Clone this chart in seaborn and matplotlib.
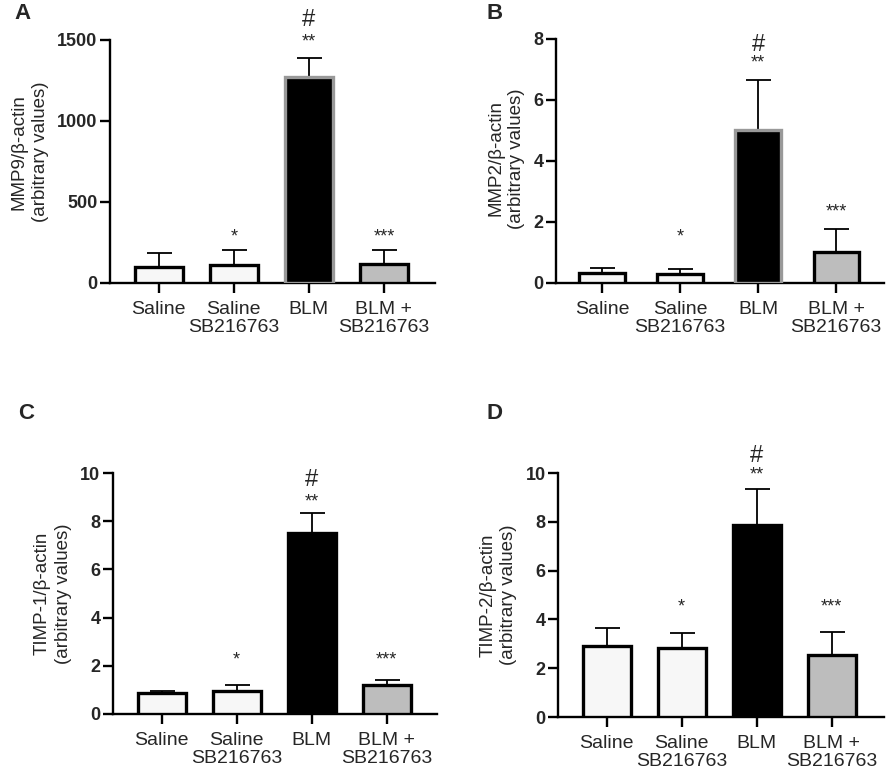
import numpy as np
import pandas as pd
import matplotlib
matplotlib.use("Agg")
import matplotlib.pyplot as plt
import seaborn as sns

sns.set_style("ticks")
plt.rcParams['font.family'] = ['Liberation Sans', 'DejaVu Sans']

# data
groups = ["Saline", "Saline\nSB216763", "BLM", "BLM +\nSB216763"]

mmp9_mean = [100, 108, 1270, 117]
mmp9_err = [85, 97, 119, 87]

mmp2_mean = [0.33, 0.30, 5.0, 1.0]
mmp2_err = [0.16, 0.16, 1.66, 0.77]

timp1_mean = [0.88, 0.97, 7.5, 1.2]
timp1_err = [0.07, 0.25, 0.85, 0.22]

timp2_mean = [2.9, 2.82, 7.85, 2.55]
timp2_err = [0.75, 0.63, 1.5, 0.95]

sig_marks = ["", "*", "**", "***"]

fill_cols = ["#f7f7f7", "#f7f7f7", "#000000", "#bdbdbd"]

panels = [
    # letter, ylabel, means, errs, ymax, ystep, axes rect, xlim, bar width, BLM edge,
    # star heights, hash height, letter position, ylabel y
    dict(letter="A", ylabel="MMP9/\u03b2-actin\n(arbitrary values)", mean=mmp9_mean, err=mmp9_err,
         ymax=1500, step=500, rect=[0.124, 0.636, 0.367, 0.3127], xlim=(-0.65, 3.68), w=0.64,
         blm_edge="#999999", star_y=[0, 284, 1487, 284], hash_y=1623, pos=(0.025, 0.983), ly=0.54),
    dict(letter="B", ylabel="MMP2/\u03b2-actin\n(arbitrary values)", mean=mmp2_mean, err=mmp2_err,
         ymax=8, step=2, rect=[0.6275, 0.636, 0.370, 0.314], xlim=(-0.59, 3.61), w=0.58,
         blm_edge="#999999", star_y=[0, 1.5, 7.2, 2.33], hash_y=7.8, pos=(0.558, 0.983), ly=0.51),
    dict(letter="C", ylabel="TIMP-1/\u03b2-actin\n(arbitrary values)", mean=timp1_mean, err=timp1_err,
         ymax=10, step=2, rect=[0.1275, 0.0811, 0.3657, 0.310], xlim=(-0.65, 3.67), w=0.64,
         blm_edge="#000000", star_y=[0, 2.25, 8.8, 2.25], hash_y=9.7, pos=(0.03, 0.468), ly=0.5),
    dict(letter="D", ylabel="TIMP-2/\u03b2-actin\n(arbitrary values)", mean=timp2_mean, err=timp2_err,
         ymax=10, step=2, rect=[0.6298, 0.0772, 0.368, 0.314], xlim=(-0.65, 3.70), w=0.64,
         blm_edge="#000000", star_y=[0, 4.5, 9.9, 4.5], hash_y=10.7, pos=(0.558, 0.468), ly=0.5),
]

fig = plt.figure(figsize=(8.86, 7.77), dpi=100)

for p in panels:
    ax = fig.add_axes(p["rect"])
    df = pd.DataFrame({"group": groups, "value": p["mean"]})
    sns.barplot(data=df, x="group", y="value", hue="group", palette=fill_cols,
                legend=False, width=p["w"], ax=ax, zorder=3)
    edges = ["#000000", "#000000", p["blm_edge"], "#000000"]
    for bar, ec in zip(ax.patches, edges):
        bar.set_edgecolor(ec)
        bar.set_linewidth(2.4)
    x = np.arange(len(groups))
    ax.errorbar(x, p["mean"], yerr=[np.zeros(len(groups)), p["err"]], fmt="none",
                ecolor="black", elinewidth=1.3, capsize=9, capthick=1.3, zorder=2)

    for xi, s, sy in zip(x, sig_marks, p["star_y"]):
        if s:
            ax.text(xi, sy, s, ha="center", va="center", fontsize=13, clip_on=False)
    ax.text(2, p["hash_y"], "#", ha="center", va="center", fontsize=17, clip_on=False)

    ax.set_ylim(0, p["ymax"])
    ax.set_xlim(*p["xlim"])
    ax.set_yticks(np.arange(0, p["ymax"] + p["step"] / 2, p["step"]))
    ax.set_xlabel("")
    ax.set_ylabel(p["ylabel"], fontsize=13.5, linespacing=1.3, labelpad=6, y=p["ly"])
    ax.set_xticks(x)
    ax.set_xticklabels(groups, fontsize=14, linespacing=1.05)
    for lab in ax.get_yticklabels():
        lab.set_fontweight("bold")
        lab.set_fontsize(13)
    ax.tick_params(axis="both", direction="out", length=7, width=1.7, color="black")
    ax.tick_params(axis="y", pad=2)
    ax.tick_params(axis="x", pad=6)
    for side in ["left", "bottom"]:
        ax.spines[side].set_linewidth(1.7)
        ax.spines[side].set_color("black")
    sns.despine(ax=ax)

    fig.text(p["pos"][0], p["pos"][1], p["letter"], fontsize=16, fontweight="bold",
             ha="center", va="center")

plt.savefig("out.png", dpi=100)
